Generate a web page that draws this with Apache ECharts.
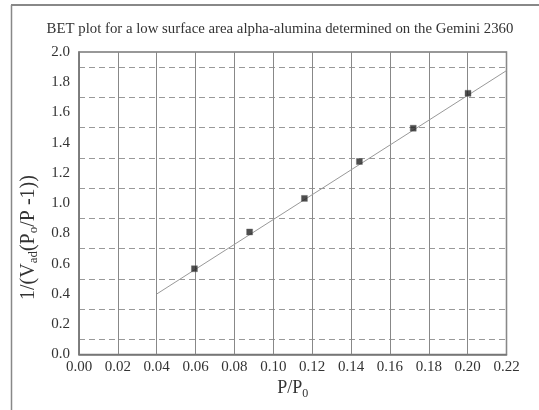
<!DOCTYPE html>
<html>
<head>
<meta charset="utf-8">
<script src="https://cdn.jsdelivr.net/npm/echarts@6/dist/echarts.min.js"></script>
<style>html,body{margin:0;padding:0;background:#fff}#c{width:539px;height:410px}</style>
</head>
<body>
<div id="c"></div>
<script>
const titleText = 'BET plot for a low surface area alpha-alumina determined on the Gemini 2360';
const pointsX = [0.0594, 0.0878, 0.116, 0.1443, 0.172, 0.2002];
const pointsY = [0.567, 0.81, 1.032, 1.276, 1.496, 1.727];
const fitX = [0.04, 0.22];
const fitY = [0.40, 1.877];
const xTicks = ['0.00','0.02','0.04','0.06','0.08','0.10','0.12','0.14','0.16','0.18','0.20','0.22'];
const yTicks = ['0.0','0.2','0.4','0.6','0.8','1.0','1.2','1.4','1.6','1.8','2.0'];

const font = 'Liberation Serif';
const chart = echarts.init(document.getElementById('c'));
chart.setOption({
  backgroundColor: '#fff',
  animation: false,
  title: {
    text: titleText, left: 275, top: 17, textAlign: 'center',
    textStyle: {fontFamily: font, fontSize: 14.8, fontWeight: 'normal', color: '#333'}
  },
  graphic: [
    {type: 'line', shape: {x1: 11, y1: 5, x2: 539, y2: 5}, style: {stroke: '#888', lineWidth: 2}},
    {type: 'line', shape: {x1: 11.5, y1: 5, x2: 11.5, y2: 410}, style: {stroke: '#888', lineWidth: 1.5}},
    {type: 'text', x: 17, y: 300, rotation: Math.PI / 2,
      style: {
        text: '{n|1/(V}{s|ad}{n|(P}{s|o}{n|/P -1))}',
        rich: {
          n: {fontFamily: font, fontSize: 20, fill: '#333'},
          s: {fontFamily: font, fontSize: 13, fill: '#333', verticalAlign: 'bottom', padding: [10,0,0,0]}
        }
      }
    }
  ],
  grid: {left: 79, right: 32.5, top: 52, bottom: 55.5, show: true, borderColor: '#777', borderWidth: 1.5},
  xAxis: {
    type: 'value', min: 0, max: 0.22, interval: 0.02,
    name: '{n|P/P}{s|0}', nameLocation: 'middle', nameGap: 19,
    nameTextStyle: {rich: {
      n: {fontFamily: font, fontSize: 18, color: '#333'},
      s: {fontFamily: font, fontSize: 12, color: '#333', verticalAlign: 'bottom', padding: [10,0,0,0]}
    }},
    axisLine: {show: true, lineStyle: {color: '#777', width: 1.5}},
    axisTick: {show: false},
    axisLabel: {fontFamily: font, fontSize: 15, color: '#333', margin: 5,
      formatter: function (v) { return xTicks[Math.round(v / 0.02)]; }},
    splitLine: {show: true, lineStyle: {color: '#888', width: 1}}
  },
  yAxis: {
    type: 'value', min: 0, max: 2, interval: 0.2,
    axisLine: {show: true, lineStyle: {color: '#777', width: 1.5}},
    axisTick: {show: false},
    axisLabel: {fontFamily: font, fontSize: 15, color: '#333', margin: 9,
      formatter: function (v) { return yTicks[Math.round(v / 0.2)]; }},
    splitLine: {show: false},
    minorTick: {show: false, splitNumber: 2},
    minorSplitLine: {show: true, lineStyle: {color: '#999', width: 1, type: [6, 4]}}
  },
  series: [
    {type: 'line', data: fitX.map((x, i) => [x, fitY[i]]), symbol: 'none',
      lineStyle: {color: '#999', width: 1}, z: 2},
    {type: 'scatter', data: pointsX.map((x, i) => [x, pointsY[i]]), symbol: 'rect', symbolSize: 6,
      itemStyle: {color: '#222', borderColor: '#666', borderWidth: 0.5}, z: 3}
  ]
});
</script>
</body>
</html>
